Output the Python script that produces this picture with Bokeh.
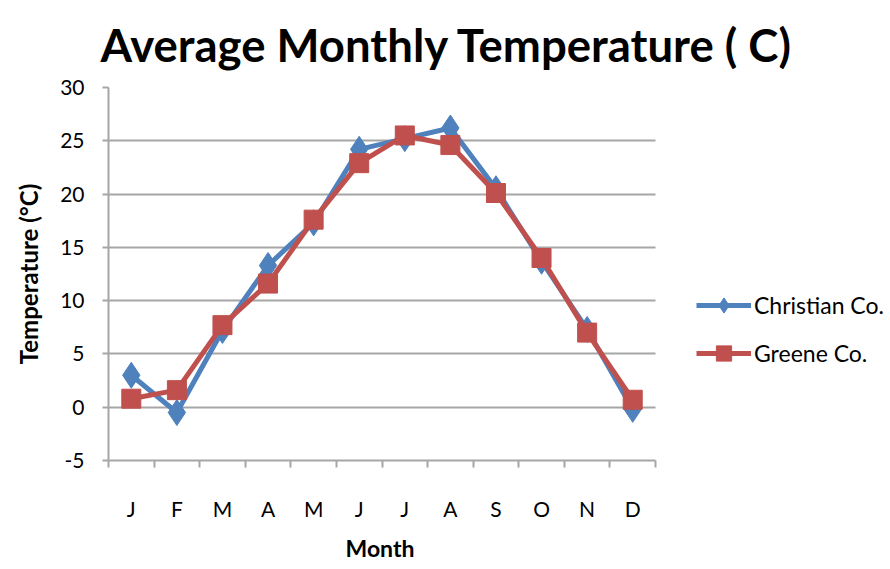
from bokeh.plotting import figure
from bokeh.models import FixedTicker, Legend, LegendItem, Grid, Title
from bokeh.embed import file_html
from bokeh.resources import INLINE

months = ["J", "F", "M", "A", "M", "J", "J", "A", "S", "O", "N", "D"]
christian = [3.0, -0.5, 7.2, 13.3, 17.3, 24.2, 25.2, 26.2, 20.5, 13.7, 7.3, -0.2]
greene = [0.8, 1.6, 7.7, 11.6, 17.6, 22.9, 25.5, 24.6, 20.1, 14.0, 7.0, 0.7]
y_ticks = [-5, 0, 5, 10, 15, 20, 25, 30]

x = list(range(1, len(months) + 1))
x_lo, x_hi = 0.5, len(months) + 0.5
y_lo, y_hi = y_ticks[0], y_ticks[-1]
FONT = "Lato"
GRAY = "#A6A6A6"
BLUE = "#4F81BD"
RED = "#C0504D"
INK = "#000000"

W, H = 890, 569
LEFT, TOP, BOTTOM = 108, 87, 108
PLOT_W = 547  # width of the month span in pixels

# The frame runs to the right edge of the canvas so the legend can sit beside
# the plotted months; axis and grid are bounded to the month span.
FRAME_W = W - LEFT
x_end = x_lo + (x_hi - x_lo) * FRAME_W / PLOT_W

p = figure(
    width=W, height=H,
    x_range=(x_lo, x_end), y_range=(y_lo, y_hi),
    output_backend="svg", toolbar_location=None,
    min_border_left=LEFT, min_border_right=0,
    min_border_top=TOP, min_border_bottom=BOTTOM,
)
p.outline_line_color = None
p.background_fill_color = "white"
p.border_fill_color = "white"

# Title
p.title.text = "Average Monthly Temperature (  C)"
p.title.text_font = FONT
p.title.text_font_size = "45.5px"
p.title.text_font_style = "bold"
p.title.text_color = INK
p.title.align = "left"
p.title.vertical_align = "top"
p.title.offset = -8
p.title.standoff = 28

# Y axis
p.yaxis.ticker = FixedTicker(ticks=y_ticks)
p.yaxis.major_label_overrides = {-5: "-5"}
p.yaxis.axis_label = "Temperature (°C)"
p.yaxis.axis_label_text_font = FONT
p.yaxis.axis_label_text_font_style = "bold"
p.yaxis.axis_label_text_font_size = "24px"
p.yaxis.axis_label_text_color = INK
p.yaxis.axis_label_standoff = 14
p.yaxis.major_label_text_font = FONT
p.yaxis.major_label_text_font_size = "21px"
p.yaxis.major_label_text_color = INK
p.yaxis.major_label_standoff = 18
p.yaxis.axis_line_color = GRAY
p.yaxis.axis_line_width = 2
p.yaxis.major_tick_line_color = GRAY
p.yaxis.major_tick_line_width = 2
p.yaxis.major_tick_out = 6
p.yaxis.major_tick_in = 0
p.yaxis.minor_tick_line_color = None

# X axis: labels at month centres, tick marks at month boundaries
p.xaxis.bounds = (x_lo, x_hi)
p.xaxis.ticker = FixedTicker(ticks=x, minor_ticks=[i + 0.5 for i in range(0, 13)])
p.xaxis.major_label_overrides = {i: m for i, m in zip(x, months)}
p.xaxis.major_tick_line_color = None
p.xaxis.major_tick_out = 0
p.xaxis.major_tick_in = 0
p.xaxis.minor_tick_line_color = GRAY
p.xaxis.minor_tick_line_width = 2
p.xaxis.minor_tick_out = 7
p.xaxis.minor_tick_in = 0
p.xaxis.axis_line_color = GRAY
p.xaxis.axis_line_width = 2
p.xaxis.major_label_text_font = FONT
p.xaxis.major_label_text_font_size = "21px"
p.xaxis.major_label_text_color = INK
p.xaxis.major_label_standoff = 28

# X axis title, placed under the month span
p.add_layout(Title(
    text="Month", align="left", offset=237, standoff=16,
    text_font=FONT, text_font_size="23px", text_font_style="bold",
    text_color=INK,
), "below")

# Horizontal grid lines over the month span only
p.xgrid.grid_line_color = None
if "cross_bounds" in Grid.properties():
    p.ygrid.ticker = FixedTicker(ticks=y_ticks)
    p.ygrid.cross_bounds = (x_lo, x_hi)
    p.ygrid.grid_line_color = GRAY
    p.ygrid.grid_line_width = 2
else:
    p.ygrid.grid_line_color = None
    p.segment(x0=[x_lo] * len(y_ticks), x1=[x_hi] * len(y_ticks),
              y0=y_ticks, y1=y_ticks, line_color=GRAY, line_width=2,
              level="underlay")

# Series
l1 = p.line(x, christian, line_color=BLUE, line_width=5)
s1 = p.scatter(x, christian, marker="diamond", size=26, fill_color=BLUE, line_color=BLUE)
l2 = p.line(x, greene, line_color=RED, line_width=5)
s2 = p.scatter(x, greene, marker="square", size=19, fill_color=RED, line_color=RED)

legend = Legend(
    items=[
        LegendItem(label="Christian Co.", renderers=[l1, s1]),
        LegendItem(label="Greene Co.", renderers=[l2, s2]),
    ],
    location=(588, 88),
    border_line_color=None,
    background_fill_alpha=0,
    label_text_font=FONT,
    label_text_font_size="23px",
    label_text_color=INK,
    label_standoff=3,
    glyph_width=55,
    glyph_height=38,
    spacing=10,
    padding=4,
    margin=0,
)
p.add_layout(legend)

open("out.html", "w").write(file_html(p, INLINE))
